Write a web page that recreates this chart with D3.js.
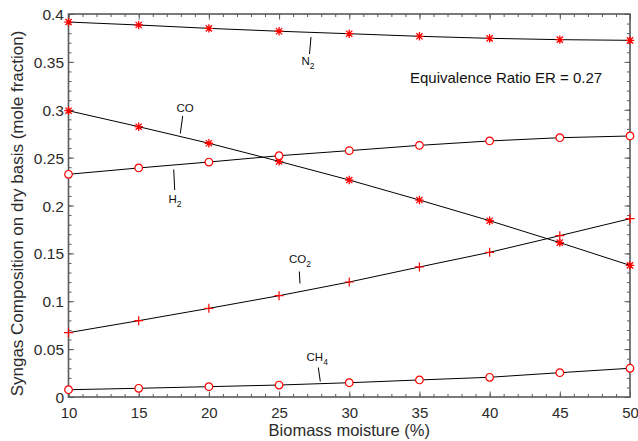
<!DOCTYPE html>
<html>
<head>
<meta charset="utf-8">
<script src="https://cdn.jsdelivr.net/npm/d3@7"></script>
<style>
  html, body { margin: 0; padding: 0; background: #fff; }
  svg { display: block; font-family: "Liberation Sans", Arial, sans-serif; }
</style>
</head>
<body>
<svg id="chart" width="638" height="441"></svg>
<script>
// Biomass moisture (%) on the x axis
const moisture = [10, 15, 20, 25, 30, 35, 40, 45, 50];

// Syngas composition on dry basis (mole fraction)
const n2  = [0.3916, 0.3885, 0.3850, 0.3820, 0.3794, 0.3767, 0.3746, 0.3732, 0.3725];
const co  = [0.2990, 0.2823, 0.2650, 0.2461, 0.2266, 0.2057, 0.1841, 0.1612, 0.1375];
const h2  = [0.2326, 0.2392, 0.2454, 0.2520, 0.2573, 0.2628, 0.2674, 0.2708, 0.2726];
const co2 = [0.0672, 0.0797, 0.0926, 0.1058, 0.1201, 0.1358, 0.1511, 0.1685, 0.1862];
const ch4 = [0.0076, 0.0091, 0.0108, 0.0125, 0.0149, 0.0178, 0.0206, 0.0254, 0.0300];

const xTicks = [10, 15, 20, 25, 30, 35, 40, 45, 50];
const yTicks = [0, 0.05, 0.1, 0.15, 0.2, 0.25, 0.3, 0.35, 0.4];
const yTickLabels = ["0", "0.05", "0.1", "0.15", "0.2", "0.25", "0.3", "0.35", "0.4"];

const series = [
  { name: "N2",  values: n2,  marker: "asterisk" },
  { name: "CO",  values: co,  marker: "asterisk" },
  { name: "H2",  values: h2,  marker: "circle" },
  { name: "CO2", values: co2, marker: "plus" },
  { name: "CH4", values: ch4, marker: "circle" }
];

const svg = d3.select("#chart");
const plotL = 68.5, plotR = 630, plotT = 14, plotB = 397;

const x = d3.scaleLinear().domain([10, 50]).range([plotL, plotR]);
const y = d3.scaleLinear().domain([0, 0.4]).range([plotB, plotT]);

const axisColor = "#5a5a5a";
const textColor = "#2b2b2b";
const tickFont = "15px";

// Inward ticks on all four sides (major + minor)
const xMinor = d3.range(10, 50.001, 1);
const yMinor = d3.range(0, 0.4001, 0.01);

function styleAxis(g) {
  g.select(".domain").remove();
  g.selectAll(".tick line").attr("stroke", axisColor).attr("stroke-width", 1);
}

// minor ticks
svg.append("g").attr("transform", `translate(0,${plotB})`)
  .call(d3.axisTop(x).tickValues(xMinor).tickSize(3).tickFormat(""))
  .call(styleAxis);
svg.append("g").attr("transform", `translate(0,${plotT})`)
  .call(d3.axisBottom(x).tickValues(xMinor).tickSize(3).tickFormat(""))
  .call(styleAxis);
svg.append("g").attr("transform", `translate(${plotL},0)`)
  .call(d3.axisRight(y).tickValues(yMinor).tickSize(3).tickFormat(""))
  .call(styleAxis);
svg.append("g").attr("transform", `translate(${plotR},0)`)
  .call(d3.axisLeft(y).tickValues(yMinor).tickSize(3).tickFormat(""))
  .call(styleAxis);

// major ticks
svg.append("g").attr("transform", `translate(0,${plotT})`)
  .call(d3.axisBottom(x).tickValues(xTicks).tickSize(5.5).tickFormat(""))
  .call(styleAxis);
svg.append("g").attr("transform", `translate(${plotR},0)`)
  .call(d3.axisLeft(y).tickValues(yTicks).tickSize(5.5).tickFormat(""))
  .call(styleAxis);

// bottom axis with labels
const xAxisG = svg.append("g").attr("transform", `translate(0,${plotB})`)
  .call(d3.axisTop(x).tickValues(xTicks).tickSize(5.5).tickFormat(d3.format("d")))
  .call(styleAxis);
xAxisG.selectAll(".tick text")
  .attr("y", 21).attr("dy", null)
  .attr("fill", textColor)
  .style("font-size", tickFont)
  .style("font-family", "'Liberation Sans', Arial, sans-serif");

// left axis with labels
const yAxisG = svg.append("g").attr("transform", `translate(${plotL},0)`)
  .call(d3.axisRight(y).tickValues(yTicks).tickSize(5.5)
    .tickFormat((d, i) => yTickLabels[i]))
  .call(styleAxis);
yAxisG.selectAll(".tick text")
  .attr("x", -4.5).attr("dy", "0.36em")
  .attr("text-anchor", "end")
  .attr("fill", textColor)
  .style("font-size", "15.5px")
  .style("font-family", "'Liberation Sans', Arial, sans-serif");

// frame
svg.append("rect")
  .attr("x", plotL).attr("y", plotT)
  .attr("width", plotR - plotL).attr("height", plotB - plotT)
  .attr("fill", "none").attr("stroke", axisColor).attr("stroke-width", 1.6);

// lines
const line = d3.line().x((d, i) => x(moisture[i])).y(d => y(d));
series.forEach(s => {
  svg.append("path")
    .datum(s.values)
    .attr("d", line)
    .attr("fill", "none")
    .attr("stroke", "#000")
    .attr("stroke-width", 1);
});

// markers
const red = "#ff0000";
function drawMarker(g, type) {
  if (type === "circle") {
    g.append("circle").attr("r", 3.8).attr("fill", "#fff")
      .attr("stroke", red).attr("stroke-width", 1.2);
  } else if (type === "plus") {
    g.append("path").attr("d", "M-4.5,0H4.5M0,-4.5V4.5")
      .attr("stroke", red).attr("stroke-width", 1.2);
  } else {
    const a = 4.2, b = 3.1;
    g.append("path")
      .attr("d", `M${-a},0H${a}M0,${-a}V${a}M${-b},${-b}L${b},${b}M${-b},${b}L${b},${-b}`)
      .attr("stroke", red).attr("stroke-width", 1.3);
  }
}
series.forEach(s => {
  s.values.forEach((v, i) => {
    const g = svg.append("g").attr("transform", `translate(${x(moisture[i])},${y(v)})`);
    drawMarker(g, s.marker);
  });
});

// species annotations with leader lines
const labelFont = 11.5, subFont = 8.5;
function annotate(main, sub, tx, ty, x1, y1, x2, y2) {
  svg.append("line").attr("x1", x1).attr("y1", y1).attr("x2", x2).attr("y2", y2)
    .attr("stroke", "#000").attr("stroke-width", 1);
  const t = svg.append("text").attr("x", tx).attr("y", ty)
    .attr("fill", "#111").style("font-size", labelFont + "px");
  t.append("tspan").text(main);
  if (sub) {
    t.append("tspan").attr("dy", 4).style("font-size", subFont + "px").text(sub);
  }
}
annotate("N", "2", 301.5, 65, 311, 37, 309.5, 54);
annotate("CO", "", 176.5, 112, 182.7, 116, 180.3, 133.5);
annotate("H", "2", 168.5, 202.5, 173.7, 169.5, 174.7, 190);
annotate("CO", "2", 289, 262.5, 299.3, 271.5, 300, 283.5);
annotate("CH", "4", 306.5, 360.5, 318.3, 367.5, 320.3, 381.5);

// operating condition note
svg.append("text")
  .attr("x", 410).attr("y", 82.5)
  .attr("fill", "#111")
  .style("font-size", "15px")
  .text("Equivalence Ratio ER = 0.27");

// axis titles
svg.append("text")
  .attr("x", (plotL + plotR) / 2).attr("y", 435.5)
  .attr("text-anchor", "middle")
  .attr("fill", textColor)
  .style("font-size", "16.5px")
  .text("Biomass moisture (%)");

svg.append("text")
  .attr("transform", "translate(23,213.5) rotate(-90)")
  .attr("text-anchor", "middle")
  .attr("fill", textColor)
  .style("font-size", "17px")
  .text("Syngas Composition on dry basis (mole fraction)");
</script>
</body>
</html>
